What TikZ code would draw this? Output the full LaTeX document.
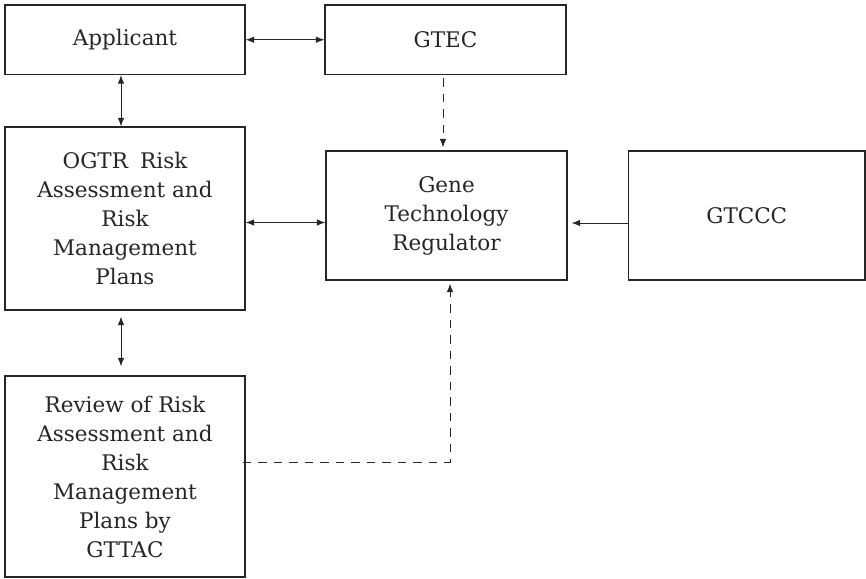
\documentclass[tikz,border=0pt]{standalone}
\usepackage{fontspec}
\setmainfont{DejaVu Serif}
\usetikzlibrary{arrows.meta}
\definecolor{ink}{HTML}{262626}
\tikzset{
  box/.style={draw=ink, line width=1.2pt, inner sep=0pt, align=center,
    text=ink, font=\fontsize{21.5}{29}\selectfont},
  conn/.style={draw=ink, line width=0.9pt},
  tip/.style={-{Latex[length=8.5pt,width=6.5pt]}},
  bitip/.style={{Latex[length=8.5pt,width=6.5pt]}-{Latex[length=8.5pt,width=6.5pt]}},
  dash5/.style={dash pattern=on 8.5pt off 7pt}
}
\begin{document}
\begin{tikzpicture}[x=1pt,y=-1pt]
\useasboundingbox (0,0) rectangle (866,578);
\node[box, minimum width=240pt, minimum height=69.5pt] (app) at (125,39.75) {Applicant};
\node[box, minimum width=241pt, minimum height=69.5pt] (gtec) at (445.5,39.75) {GTEC};
\node[box, minimum width=240pt, minimum height=183pt] (ogtr) at (125,218.5)
  {OGTR\hspace{0.25em} Risk\\Assessment and\\Risk\\Management\\Plans};
\node[box, minimum width=241pt, minimum height=129pt] (gtr) at (446.5,215.5)
  {Gene\\Technology\\Regulator};
\node[box, minimum width=236.5pt, minimum height=129pt] (gtccc) at (746.75,215.5) {GTCCC};
\node[box, minimum width=240pt, minimum height=201pt] (rev) at (125,476.5)
  {Review of Risk\\Assessment and\\Risk\\Management\\Plans by\\GTTAC};
% connectors
\draw[conn, bitip] (app.east) -- (gtec.west);
\draw[conn, bitip] ([xshift=-4pt]app.south) -- ([xshift=-4pt]ogtr.north);
\draw[conn, bitip] ([xshift=-4pt,yshift=-6pt]ogtr.south) -- ([xshift=-4pt,yshift=9pt]rev.north);
\draw[conn, bitip] ([yshift=-4pt]ogtr.east) -- ([yshift=-4pt]ogtr.east -| gtr.west);
\draw[conn, tip] ([yshift=-7.5pt]gtccc.west) -- ([xshift=4pt,yshift=-7.5pt]gtccc.west -| gtr.east);
\draw[conn, tip, dash5] ([xshift=-2.5pt,yshift=-3pt]gtec.south) -- ([xshift=-3.5pt,yshift=3pt]gtr.north);
\draw[conn, tip, dash5] ([xshift=-3pt,yshift=14.5pt]rev.east) -| ([xshift=3.5pt,yshift=-3pt]gtr.south);
\end{tikzpicture}
\end{document}
